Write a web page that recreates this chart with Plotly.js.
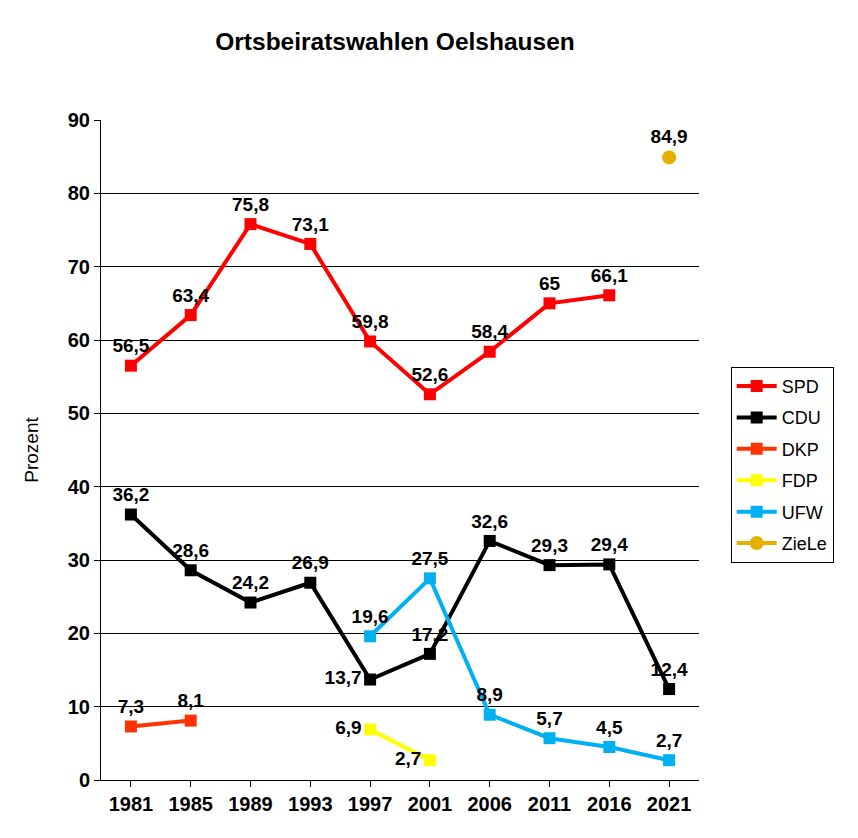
<!DOCTYPE html>
<html>
<head>
<meta charset="utf-8">
<script src="https://cdn.plot.ly/plotly-3.0.1.min.js"></script>
<style>body{margin:0;background:#fff;} #chart{width:858px;height:838px;}</style>
</head>
<body>
<div id="chart"></div>
<script>
const years = ['1981','1985','1989','1993','1997','2001','2006','2011','2016','2021'];
const spd   = [56.5, 63.4, 75.8, 73.1, 59.8, 52.6, 58.4, 65, 66.1, null];
const cdu   = [36.2, 28.6, 24.2, 26.9, 13.7, 17.2, 32.6, 29.3, 29.4, 12.4];
const dkp   = [7.3, 8.1, null, null, null, null, null, null, null, null];
const fdp   = [null, null, null, null, 6.9, 2.7, null, null, null, null];
const ufw   = [null, null, null, null, 19.6, 27.5, 8.9, 5.7, 4.5, 2.7];
const ziele = [null, null, null, null, null, null, null, null, null, 84.9];

const FONT = 'Liberation Sans, Arial, sans-serif';
const fmt = arr => arr.map(v => v == null ? '' : String(v).replace('.', ','));
const labelFont = {family: FONT, size: 19, color: '#000', weight: 'bold'};

function series(name, y, color, opts) {
  opts = opts || {};
  return {
    type: 'scatter', mode: 'lines+markers+text', name: name, legendgroup: name,
    x: years, y: y, text: fmt(y),
    textposition: opts.pos || 'top center',
    textfont: labelFont,
    line: {color: color, width: 4},
    marker: {color: color, size: opts.msize || 12, symbol: opts.symbol || 'square'},
    connectgaps: false, cliponaxis: false
  };
}

const fdpPos = ['top center','top center','top center','top center','middle left','middle left','top center','top center','top center','top center'];
const cduPos = ['top center','top center','top center','top center','middle left','top center','top center','top center','top center','top center'];

const data = [
  series('SPD', spd, '#FF0000'),
  series('CDU', cdu, '#000000', {pos: cduPos}),
  series('DKP', dkp, '#FF3300'),
  series('FDP', fdp, '#FFFF00', {pos: fdpPos}),
  series('UFW', ufw, '#00B0F0'),
  series('ZieLe', ziele, '#E5B000', {symbol: 'circle', msize: 14})
];

const tickFont = {family: FONT, size: 20, color: '#000', weight: 'bold'};

const layout = {
  width: 858, height: 838,
  paper_bgcolor: '#fff', plot_bgcolor: '#fff',
  margin: {l: 101, r: 159, t: 120, b: 58},
  title: {text: 'Ortsbeiratswahlen Oelshausen', x: 0.4604, xref: 'container', xanchor: 'center',
          y: 0.95, yref: 'container', yanchor: 'middle',
          font: {family: FONT, size: 24.5, color: '#000', weight: 'bold'}},
  xaxis: {
    type: 'category', range: [-0.5, 9.5], showgrid: false, zeroline: false,
    showline: true, linecolor: '#000', linewidth: 1,
    ticks: 'outside', ticklen: 6, tickcolor: '#000', tickfont: tickFont
  },
  yaxis: {
    range: [0, 90], dtick: 10, showgrid: true, gridcolor: '#000', gridwidth: 1,
    zeroline: false, showline: true, linecolor: '#000', linewidth: 1,
    ticks: 'outside', ticklen: 6, tickcolor: '#000', tickfont: tickFont,
    title: {text: 'Prozent', standoff: 24, font: {family: FONT, size: 19, color: '#000'}}
  },
  showlegend: true,
  legend: {
    x: 1.053, xanchor: 'left', y: 0.626, yanchor: 'top',
    bordercolor: '#000', borderwidth: 1, bgcolor: '#fff',
    font: {family: FONT, size: 18, color: '#000'},
    itemwidth: 40, tracegroupgap: 5
  }
};

Plotly.newPlot('chart', data, layout, {displayModeBar: false});
</script>
</body>
</html>
